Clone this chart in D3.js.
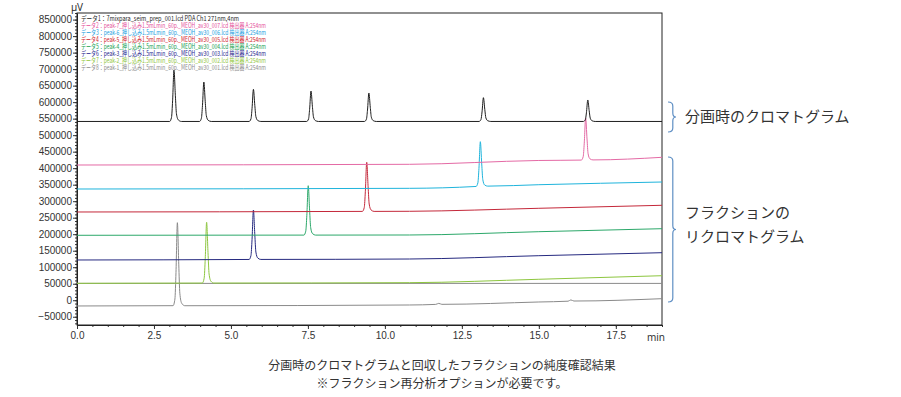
<!DOCTYPE html>
<html>
<head>
<meta charset="utf-8">
<script src="https://cdn.jsdelivr.net/npm/d3@7"></script>
<style>
  html, body { margin: 0; padding: 0; background: #fff; }
  svg { display: block; font-family: "Noto Sans", "Noto Sans CJK JP", sans-serif; }
</style>
</head>
<body>
<svg id="chart" width="901" height="397"></svg>
<script>
// --- data (time in min, signal in µV) ---
const legendLabels = [
  'データ1：7mixpara_seim_prep_001.lcd PDA Ch1 271nm,4nm',
  'データ2：peak-7_押し込み1.5mLmin_60p._MEOH_av30_007.lcd 検出器 A:254nm',
  'データ3：peak-6_押し込み1.5mLmin_60p._MEOH_av30_006.lcd 検出器 A:254nm',
  'データ4：peak-5_押し込み1.5mLmin_60p._MEOH_av30_005.lcd 検出器 A:254nm',
  'データ5：peak-4_押し込み1.5mLmin_60p._MEOH_av30_004.lcd 検出器 A:254nm',
  'データ6：peak-3_押し込み1.5mLmin_60p._MEOH_av30_003.lcd 検出器 A:254nm',
  'データ7：peak-2_押し込み1.5mLmin_60p._MEOH_av30_002.lcd 検出器 A:254nm',
  'データ8：peak-1_押し込み1.5mLmin_60p._MEOH_av30_001.lcd 検出器 A:254nm'
]
const lineColors = ['#1e1e1e', '#e46aa5', '#1fb4dc', '#c4283a', '#2ca86a', '#262a80', '#8dc63f', '#8a8a8a']
const textColors = ['#1e1e1e', '#e4509a', '#1aa0e0', '#d01828', '#18a050', '#1c1c8c', '#90c63c', '#8c8c8c']

const data1 = [
  [0, 541500],
  [3.01, 541500], [3.07, 554000], [3.105, 603900], [3.15, 697400], [3.195, 619500], [3.23, 564900], [3.29, 546200], [3.39, 541500],
  [3.98, 541500], [4.04, 551100], [4.075, 589300], [4.12, 661000], [4.165, 601300], [4.20, 559400], [4.26, 545100], [4.36, 541500],
  [5.59, 541500], [5.65, 549300], [5.685, 580500], [5.73, 638900], [5.775, 590200], [5.81, 556100], [5.87, 544400], [5.97, 541500],
  [7.46, 541500], [7.52, 548900], [7.555, 578400], [7.60, 633700], [7.645, 587600], [7.68, 555300], [7.74, 544300], [7.84, 541500],
  [9.34, 541500], [9.40, 548400], [9.435, 576000], [9.48, 627700], [9.525, 584600], [9.56, 554400], [9.62, 544100], [9.72, 541500],
  [13.06, 541500], [13.12, 547300], [13.155, 570300], [13.20, 613500], [13.245, 577500], [13.28, 552300], [13.34, 543700], [13.44, 541500],
  [16.45, 541500], [16.51, 546700], [16.545, 567500], [16.59, 606500], [16.635, 574000], [16.67, 551300], [16.73, 543500], [16.83, 541500],
  [19, 541500]
]
const data2 = [
  [0, 409600], [10.8, 411700], [15, 423300], [16.38, 424500], [16.44, 434700], [16.475, 475500], [16.52, 552000],
  [16.565, 488300], [16.60, 443600], [16.66, 428300], [16.76, 425000], [19, 432900]
]
const data3 = [
  [0, 336900], [10.8, 339000], [12.96, 344600], [13.02, 355800], [13.055, 399100], [13.10, 480200], [13.145, 412600],
  [13.18, 365300], [13.24, 349100], [13.34, 345600], [15, 349900], [19, 358100]
]
const data4 = [
  [0, 267300], [9.27, 269100], [9.33, 281000], [9.365, 328600], [9.41, 417800], [9.455, 343500], [9.49, 291400],
  [9.55, 273600], [9.65, 269100], [10.8, 269400], [15, 278500], [19, 287600]
]
const data5 = [
  [0, 196700], [7.37, 197300], [7.43, 209300], [7.465, 257100], [7.51, 346900], [7.555, 272100], [7.59, 219700],
  [7.65, 201800], [7.75, 197300], [10.8, 197600], [15, 207600], [19, 216700]
]
const data6 = [
  [0, 121900], [5.59, 123500], [5.65, 135500], [5.685, 183400], [5.73, 273300], [5.775, 198400], [5.81, 146000],
  [5.87, 128000], [5.97, 123600], [10.8, 124900], [15, 134900], [19, 144000]
]
const data7 = [
  [0, 51300], [4.07, 52000], [4.13, 66700], [4.165, 125600], [4.21, 236100], [4.255, 144100], [4.29, 79600],
  [4.35, 57500], [4.45, 52000], [10.8, 53200], [15, 63500], [19, 74300]
]
const data8 = [
  [0, -17400], [3.12, -16500], [3.18, 3600], [3.215, 84100], [3.26, 234900], [3.305, 109200], [3.34, 21200],
  [3.40, -9000], [3.50, -16600], [10.8, -14400], [11.65, -12600], [11.75, -9500], [11.85, -12400], [15, -5300],
  [15.95, -2900], [16.04, 1000], [16.14, -2400], [19, 4700]
]
const refLine = [[0, 51000], [19, 51000]]

const yTicks = d3.range(-50000, 850001, 50000)
const yMinor = d3.range(-70000, 870001, 10000)
const xTicks = [0, 2.5, 5, 7.5, 10, 12.5, 15, 17.5]
const xMinor = d3.range(0, 19.01, 0.5)

const captionLines = [
  '分画時のクロマトグラムと回収したフラクションの純度確認結果',
  '※フラクション再分析オプションが必要です。'
]
const noteTop = ['分画時のクロマトグラム']
const noteBottom = ['フラクションの', 'リクロマトグラム']

// --- layout ---
const MARGIN = { top: 13, left: 77 }
const W = 585, H = 312

const svg = d3.select('#chart')
const g = svg.append('g').attr('transform', `translate(${MARGIN.left},${MARGIN.top})`)

const x = d3.scaleLinear().domain([0, 19]).range([0, W])
const y = d3.scaleLinear().domain([-75000, 870000]).range([H, 0])

svg.append('defs').append('clipPath').attr('id', 'clip')
  .append('rect').attr('x', 0).attr('y', 0).attr('width', W).attr('height', H)

// minor ticks
g.append('g').call(d3.axisLeft(y).tickValues(yMinor).tickSize(2).tickFormat(''))
  .call(s => s.select('.domain').remove())
  .selectAll('line').attr('stroke', '#333')
g.append('g').attr('transform', `translate(0,${H})`)
  .call(d3.axisBottom(x).tickValues(xMinor).tickSize(2).tickFormat(''))
  .call(s => s.select('.domain').remove())
  .selectAll('line').attr('stroke', '#333')

// major axes
const yAxis = g.append('g').call(d3.axisLeft(y).tickValues(yTicks).tickSize(4).tickSizeOuter(0).tickFormat(d3.format('d')))
yAxis.selectAll('text').attr('font-size', 10).attr('fill', '#333').attr('x', -5)
yAxis.selectAll('line').attr('stroke', '#333')
yAxis.select('.domain').attr('stroke', '#222')

const xAxis = g.append('g').attr('transform', `translate(0,${H})`)
  .call(d3.axisBottom(x).tickValues(xTicks).tickSize(4).tickSizeOuter(0).tickFormat(d3.format('.1f')))
xAxis.selectAll('text').attr('font-size', 10).attr('fill', '#333').attr('y', 7)
xAxis.selectAll('line').attr('stroke', '#333')
xAxis.select('.domain').attr('stroke', '#222')

// frame
g.append('rect').attr('width', W).attr('height', H).attr('fill', 'none').attr('stroke', '#222').attr('stroke-width', 1)

g.append('text').attr('x', 0).attr('y', -2).attr('text-anchor', 'middle')
  .attr('font-size', 10).attr('fill', '#333').text('µV')
g.append('text').attr('x', W - 6).attr('y', H + 16).attr('text-anchor', 'middle')
  .attr('font-size', 10).attr('fill', '#333').text('min')

// traces
const line = d3.line().x(d => x(d[0])).y(d => y(d[1])).curve(d3.curveMonotoneX)
const gLines = g.append('g').attr('clip-path', 'url(#clip)')
gLines.append('path').attr('d', line(refLine)).attr('fill', 'none').attr('stroke', '#8a8a8a').attr('stroke-width', 1)
const traces = [data8, data7, data6, data5, data4, data3, data2, data1]
const traceIdx = [7, 6, 5, 4, 3, 2, 1, 0]
gLines.selectAll('path.trace').data(traces).enter().append('path')
  .attr('class', 'trace')
  .attr('d', d => line(d))
  .attr('fill', 'none')
  .attr('stroke', (d, i) => lineColors[traceIdx[i]])
  .attr('stroke-width', 1)

// legend
const legend = g.append('g').attr('font-family', '"Noto Sans CJK JP", "Noto Sans", sans-serif')
legend.selectAll('text').data(legendLabels).enter().append('text')
  .attr('x', 4)
  .attr('y', (d, i) => 7.5 + i * 7)
  .attr('font-size', 7)
  .attr('fill', (d, i) => textColors[i])
  .attr('textLength', (d, i) => i === 0 ? 158 : 185)
  .attr('lengthAdjust', 'spacingAndGlyphs')
  .text(d => d)

// right-hand notes with braces
const braceColor = '#5f8fc4'
function brace(x0, y0, y1, w) {
  const xs = x0 + w * 0.6, xt = x0 + w, ym = (y0 + y1) / 2, r = 4
  return `M${x0},${y0} Q${xs},${y0} ${xs},${y0 + r} L${xs},${ym - r} Q${xs},${ym} ${xt},${ym}` +
    ` Q${xs},${ym} ${xs},${ym + r} L${xs},${y1 - r} Q${xs},${y1} ${x0},${y1}`
}
svg.append('path').attr('d', brace(668, 102, 132, 8)).attr('fill', 'none').attr('stroke', braceColor).attr('stroke-width', 1.2)
svg.append('path').attr('d', brace(668, 157, 302, 8)).attr('fill', 'none').attr('stroke', braceColor).attr('stroke-width', 1.2)

const noteFont = '"Noto Sans CJK JP", sans-serif'
svg.append('text').attr('x', 685).attr('y', 122).attr('font-size', 15).attr('fill', '#333')
  .attr('font-family', noteFont).text(noteTop[0])
svg.selectAll('text.noteb').data(noteBottom).enter().append('text').attr('class', 'noteb')
  .attr('x', 685).attr('y', (d, i) => 218 + i * 24).attr('font-size', 15).attr('fill', '#333')
  .attr('font-family', noteFont).text(d => d)

// caption
svg.selectAll('text.cap').data(captionLines).enter().append('text').attr('class', 'cap')
  .attr('x', 442).attr('y', (d, i) => 370 + i * 18).attr('text-anchor', 'middle')
  .attr('font-size', 12).attr('fill', '#333').attr('font-family', noteFont).text(d => d)
</script>
</body>
</html>
